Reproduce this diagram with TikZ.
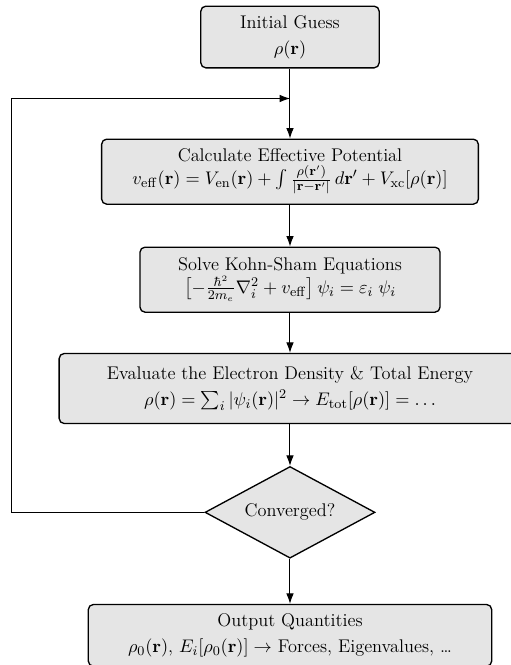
\documentclass[tikz,border=0pt]{standalone}
\usepackage{amsmath}
\usepackage{xcolor}
\usepackage{tikz}
\usetikzlibrary{arrows.meta, positioning, shapes.geometric}

\begin{document}
\begin{tikzpicture}[
  box/.style={draw, thick, rounded corners=3pt, fill=black!10, align=center, inner sep=2.5pt,
    font=\fontsize{11}{13.5}\selectfont},
  decision/.style={draw, thick, diamond, aspect=1.85, fill=black!10, minimum width=102pt,
    minimum height=55pt, inner sep=0pt, font=\fontsize{11}{13.5}\selectfont},
  arrow/.style={-{Latex[length=2.2mm, width=1.6mm]}, semithick},
]

\useasboundingbox (-174pt,22.2pt) rectangle (132.6pt,-376.8pt);

% --- Node placement (one column)
\node[box, minimum width=107pt, minimum height=37pt] (init) at (0,0)
  {Initial Guess\\[2pt] $\rho(\mathbf{r})$};
\node[box, minimum width=226pt, minimum height=39pt, below=42pt of init] (calc)
  {Calculate Effective Potential\\
  $v_{\mathrm{eff}}(\mathbf{r}) = V_{\mathrm{en}}(\mathbf{r}) + \int \frac{\rho(\mathbf{r}')}{|\mathbf{r}-\mathbf{r}'|}\,d\mathbf{r}' + V_{\mathrm{xc}}[\rho(\mathbf{r})]$};
\node[box, minimum width=180pt, minimum height=39pt, below=25pt of calc] (solve)
  {Solve Kohn-Sham Equations\\
  $\bigl[-\frac{\hbar^2}{2m_e}\nabla_i^2 + v_{\mathrm{eff}}\bigr]\,\psi_i = \varepsilon_i\;\psi_i$};
\node[box, minimum width=277pt, minimum height=42pt, below=24pt of solve] (eval)
  {Evaluate the Electron Density \& Total Energy\\[2pt]
  $\rho(\mathbf{r}) = \sum_i |\psi_i(\mathbf{r})|^2 \rightarrow E_{\mathrm{tot}}[\rho(\mathbf{r})] = \ldots$};
\node[decision, below=25pt of eval] (conv) {Converged?};
\node[box, minimum width=242pt, minimum height=37pt, below=27pt of conv] (out)
  {Output Quantities\\[2pt]
  $\rho_0(\mathbf{r})$, $E_i[\rho_0(\mathbf{r})] \rightarrow$ Forces, Eigenvalues, \ldots};

% --- Loop entry point
\coordinate[below=18pt of init] (join);

% --- Arrows
\draw[arrow] (init) -- (calc);
\draw[arrow] (calc) -- (solve);
\draw[arrow] (solve) -- (eval);
\draw[arrow] (eval) -- (conv);
\draw[arrow] (conv) -- (out);

% --- Feedback loop (not converged)
\draw[arrow] (conv.west) -- ++(-115.8pt,0) |- (join);

\end{tikzpicture}
\end{document}
